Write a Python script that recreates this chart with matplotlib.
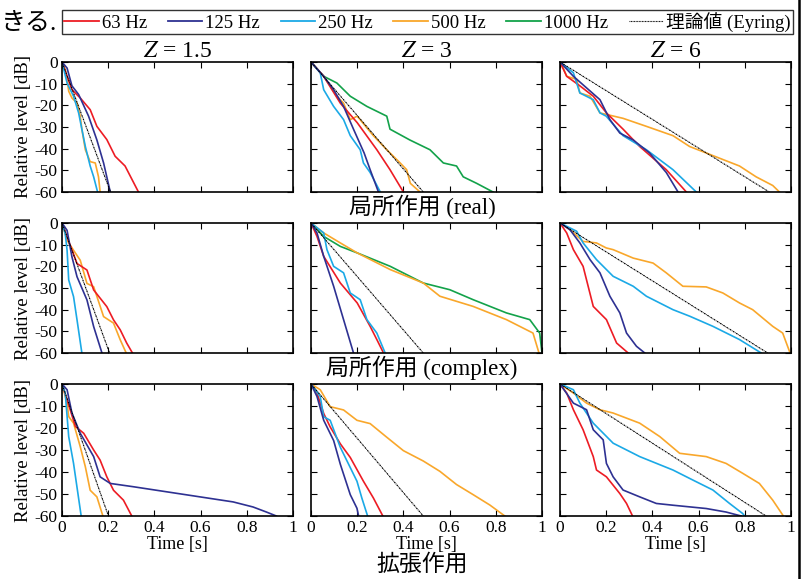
import numpy as np
import matplotlib
matplotlib.use('Agg')
from matplotlib import pyplot as plt
from matplotlib.lines import Line2D

plt.rcParams['font.family'] = ['Liberation Serif', 'Noto Sans CJK JP']
plt.rcParams['mathtext.fontset'] = 'stix'
plt.rcParams['axes.unicode_minus'] = False

# legend labels / colours
freq_labels = ['63 Hz', '125 Hz', '250 Hz', '500 Hz', '1000 Hz']
freq_colors = ['#ed1c24', '#2e3192', '#1ba9e6', '#f9a72b', '#13a24a']
eyring_label = '理論値 (Eyring)'

col_titles = ['$Z$ = 1.5', '$Z$ = 3', '$Z$ = 6']
row_titles = ['局所作用 (real)', '局所作用 (complex)', '拡張作用']

# Eyring decay: time [s] at which the straight line reaches -60 dB
eyring_t60 = [[0.21, 0.486, 0.906],
              [0.206, 0.486, 0.899],
              [0.201, 0.486, 0.892]]

# ---- row 1 : 局所作用 (real) ----
real_z15_63 = [(0, 0), (0.043, -12.8), (0.079, -16.6), (0.122, -22), (0.151, -29.7), (0.194, -35.8),
               (0.23, -43.5), (0.273, -48), (0.302, -54), (0.331, -60)]
real_z15_125 = [(0, 0), (0.022, -2.8), (0.043, -11), (0.072, -15), (0.115, -25), (0.151, -36),
                (0.18, -46.6), (0.209, -60)]
real_z15_250 = [(0, 0), (0.022, -9.7), (0.05, -15.8), (0.072, -23.5), (0.086, -31), (0.101, -39),
                (0.122, -48), (0.137, -53), (0.154, -60)]
real_z15_500 = [(0, 0), (0.014, -3.5), (0.022, -8), (0.029, -13.5), (0.043, -16.6), (0.065, -19),
                (0.079, -25), (0.086, -31), (0.101, -40.5), (0.122, -46), (0.144, -46.6), (0.158, -53),
                (0.165, -60)]

real_z3_63 = [(0, 0), (0.055, -6.6), (0.127, -19), (0.2, -28), (0.285, -40.5), (0.342, -49.7), (0.4, -60)]
real_z3_125 = [(0, 0), (0.055, -6.6), (0.098, -12.8), (0.141, -20.5), (0.184, -31), (0.23, -42),
               (0.256, -49.7), (0.292, -60)]
real_z3_250 = [(0, 0), (0.04, -5), (0.055, -12.8), (0.098, -20.5), (0.141, -26.6), (0.17, -34),
               (0.213, -40.5), (0.227, -46.6), (0.256, -51), (0.3, -60)]
real_z3_500 = [(0, 0), (0.055, -6.6), (0.112, -15.8), (0.141, -19), (0.17, -26.6), (0.2, -25),
               (0.27, -34), (0.328, -40.5), (0.386, -46.6), (0.414, -49.7), (0.43, -56), (0.472, -60)]
real_z3_1000 = [(0, 0), (0.055, -6.6), (0.112, -9.7), (0.17, -15.8), (0.242, -20.5), (0.328, -25),
                (0.342, -31), (0.428, -36), (0.515, -40.5), (0.573, -46.6), (0.63, -48), (0.659, -53),
                (0.717, -56), (0.788, -60)]

real_z6_63 = [(0, 0), (0.029, -6.6), (0.086, -11), (0.144, -15.8), (0.201, -23.5), (0.273, -31),
              (0.345, -39), (0.46, -49.7), (0.547, -60)]
real_z6_125 = [(0, 0), (0.058, -6.6), (0.173, -17.4), (0.216, -26.6), (0.259, -32.8), (0.317, -36),
               (0.388, -42), (0.46, -51), (0.511, -60)]
real_z6_250 = [(0, 0), (0.058, -5), (0.086, -14.3), (0.144, -17.4), (0.173, -23.5), (0.2, -25),
               (0.273, -34), (0.374, -40.5), (0.489, -49.7), (0.59, -60)]
real_z6_500 = [(0, 0), (0.014, -2.8), (0.029, -6.6), (0.072, -8), (0.086, -14.3), (0.13, -15.8),
               (0.173, -23.5), (0.273, -26), (0.374, -29.7), (0.489, -34), (0.561, -39), (0.633, -42),
               (0.705, -45), (0.777, -48), (0.849, -53), (0.921, -57), (0.95, -60)]

# ---- row 2 : 局所作用 (complex) ----
cplx_z15_63 = [(0, 0), (0.022, -6.4), (0.065, -18.7), (0.108, -21.7), (0.137, -30.9), (0.194, -38.6),
               (0.223, -44.7), (0.252, -49.3), (0.28, -55.4), (0.305, -60)]
cplx_z15_125 = [(0, 0), (0.022, -3.4), (0.043, -15.6), (0.065, -24.8), (0.108, -35.5), (0.137, -47.8),
                (0.173, -60)]
cplx_z15_250 = [(0, 0), (0.014, -4.9), (0.022, -12.6), (0.029, -26.3), (0.05, -34), (0.065, -44.7),
                (0.086, -60)]
cplx_z15_500 = [(0, 0), (0.022, -8), (0.05, -12.6), (0.079, -17.2), (0.108, -27.9), (0.137, -29.4),
                (0.18, -43.2), (0.223, -46.2), (0.252, -53.9), (0.278, -60)]

cplx_z3_63 = [(0, 0), (0.026, -6.2), (0.055, -15.4), (0.127, -27.7), (0.2, -36.9), (0.256, -47.7),
              (0.285, -53.8), (0.314, -60)]
cplx_z3_125 = [(0, 0), (0.026, -4.6), (0.055, -15.4), (0.098, -29.2), (0.141, -44.6), (0.184, -60)]
cplx_z3_250 = [(0, 0), (0.055, -4.6), (0.069, -12.3), (0.098, -20), (0.141, -23), (0.17, -32.3),
               (0.213, -35.4), (0.242, -44.6), (0.285, -50.8), (0.321, -60)]
cplx_z3_500 = [(0, 0), (0.055, -4.6), (0.127, -9.2), (0.2, -13.8), (0.343, -21.5), (0.486, -27.7),
               (0.558, -33.8), (0.702, -38.5), (0.846, -44.6), (0.961, -50.8), (0.987, -60)]
cplx_z3_1000 = [(0, 0), (0.055, -6.2), (0.127, -10.8), (0.2, -13.8), (0.343, -20), (0.486, -27.7),
                (0.601, -30.8), (0.702, -35.4), (0.846, -41.5), (0.947, -44.6), (0.99, -50.8), (1.0, -60)]

cplx_z6_63 = [(0, 0), (0.029, -4.6), (0.058, -12.3), (0.1, -20), (0.144, -38.5), (0.201, -44.6),
              (0.245, -55.4), (0.295, -60)]
cplx_z6_125 = [(0, 0), (0.043, -3.1), (0.086, -9.2), (0.13, -16.9), (0.173, -23), (0.216, -33.8),
               (0.259, -41.5), (0.288, -50.8), (0.331, -56.9), (0.367, -60)]
cplx_z6_250 = [(0, 0), (0.072, -3.8), (0.1, -9.2), (0.158, -16.9), (0.23, -24.6), (0.317, -29.2),
               (0.374, -33.8), (0.489, -40), (0.561, -43), (0.662, -47.7), (0.777, -53.8), (0.871, -60)]
cplx_z6_500 = [(0, 0), (0.043, -3.1), (0.1, -8.5), (0.158, -9.2), (0.2, -11.5), (0.23, -12.3),
               (0.317, -16.2), (0.403, -18.5), (0.46, -23), (0.532, -29.2), (0.633, -29.5),
               (0.705, -32.3), (0.777, -36.9), (0.834, -40), (0.921, -47.7), (0.964, -50.8), (0.996, -60)]

# ---- row 3 : 拡張作用 ----
ext_z15_63 = [(0, 0), (0.022, -7.2), (0.058, -19.3), (0.094, -22.4), (0.137, -30), (0.165, -34.6),
              (0.194, -42.2), (0.223, -48.3), (0.266, -52.8), (0.302, -60)]
ext_z15_125 = [(0, 0), (0.022, -2.6), (0.043, -13.2), (0.079, -22.4), (0.137, -33), (0.165, -42.2),
               (0.209, -45.2), (0.309, -46.7), (0.453, -49), (0.597, -51.3), (0.741, -53.6),
               (0.827, -55.9), (0.885, -58.2), (0.928, -60)]
ext_z15_250 = [(0, 0), (0.014, -4.1), (0.029, -23.9), (0.05, -36.1), (0.083, -60)]
ext_z15_500 = [(0, 0), (0.022, -8.7), (0.029, -14.8), (0.05, -17.8), (0.079, -28.5), (0.101, -37.6),
               (0.122, -48.3), (0.151, -51.3), (0.177, -60)]

ext_z3_63 = [(0, 0), (0.026, -4.2), (0.055, -13.4), (0.083, -19.5), (0.127, -27.2), (0.17, -33.4),
             (0.227, -44.2), (0.27, -51.8), (0.311, -60)]
ext_z3_125 = [(0, 0), (0.026, -5.7), (0.055, -16.5), (0.098, -25.7), (0.127, -36.5), (0.17, -50.3),
              (0.199, -56.5), (0.206, -60)]
ext_z3_250 = [(0, 0), (0.04, -5.7), (0.055, -14.9), (0.083, -16.5), (0.127, -28.8), (0.17, -38),
              (0.199, -44.2), (0.22, -51.8), (0.245, -60)]
ext_z3_500 = [(0, 0), (0.04, -2.6), (0.083, -10.3), (0.141, -11.8), (0.199, -16.5), (0.256, -18),
              (0.328, -24.2), (0.4, -30.3), (0.486, -35), (0.558, -39.7), (0.63, -45.7), (0.702, -50.3),
              (0.774, -55), (0.839, -60)]

ext_z6_63 = [(0, 0), (0.029, -4.1), (0.058, -11.7), (0.1, -20.8), (0.144, -33), (0.158, -39.1),
             (0.201, -42.2), (0.259, -49.8), (0.288, -54.3), (0.314, -60)]
ext_z6_125 = [(0, 0), (0.058, -8.7), (0.115, -11.7), (0.144, -20.8), (0.187, -25.4), (0.201, -36.1),
              (0.23, -42.2), (0.273, -48.2), (0.345, -51.3), (0.417, -54.3), (0.489, -55.1),
              (0.633, -56.6), (0.719, -58.2), (0.784, -60)]
ext_z6_250 = [(0, 0), (0.058, -2.6), (0.086, -8.7), (0.144, -17.8), (0.23, -26.9), (0.345, -33),
              (0.489, -39.1), (0.576, -43.7), (0.662, -48.2), (0.734, -54.3), (0.791, -58.9), (0.799, -60)]
ext_z6_500 = [(0, 0), (0.058, -4.1), (0.115, -8.7), (0.173, -11.7), (0.23, -13.2), (0.345, -17.8),
              (0.432, -23.9), (0.518, -31.5), (0.633, -33), (0.719, -36.1), (0.791, -40.6),
              (0.863, -45.2), (0.921, -52.8), (0.967, -60)]

# panel contents: one list per panel, entries indexed like freq_labels (None = not drawn)
panels = [
    [[real_z15_63, real_z15_125, real_z15_250, real_z15_500, None],
     [real_z3_63, real_z3_125, real_z3_250, real_z3_500, real_z3_1000],
     [real_z6_63, real_z6_125, real_z6_250, real_z6_500, None]],
    [[cplx_z15_63, cplx_z15_125, cplx_z15_250, cplx_z15_500, None],
     [cplx_z3_63, cplx_z3_125, cplx_z3_250, cplx_z3_500, cplx_z3_1000],
     [cplx_z6_63, cplx_z6_125, cplx_z6_250, cplx_z6_500, None]],
    [[ext_z15_63, ext_z15_125, ext_z15_250, ext_z15_500, None],
     [ext_z3_63, ext_z3_125, ext_z3_250, ext_z3_500, None],
     [ext_z6_63, ext_z6_125, ext_z6_250, ext_z6_500, None]],
]

W, H = 803, 579
fig = plt.figure(figsize=(W / 100, H / 100), dpi=100)

col_left = [62, 311, 560]
col_w = 231
row_top = [62, 223, 384]
row_h = [130, 130, 132]

eyring_style = (0, (1.6, 0.6, 0.6, 0.6))

def px_rect(l, t, w, h):
    return [l / W, 1 - (t + h) / H, w / W, h / H]

for r in range(3):
    for c in range(3):
        ax = fig.add_axes(px_rect(col_left[c], row_top[r], col_w, row_h[r]))
        order = [4, 3, 0, 2, 1]
        for k in order:
            curve = panels[r][c][k]
            if curve is None:
                continue
            arr = np.array(curve)
            ax.plot(arr[:, 0], arr[:, 1], color=freq_colors[k], lw=1.2)
        ax.plot([0, eyring_t60[r][c]], [0, -60], color='black', lw=0.8, ls=eyring_style)
        ax.set_xlim(0, 1)
        ax.set_ylim(-60, 0)
        ax.set_xticks([0, 0.2, 0.4, 0.6, 0.8, 1.0])
        ax.set_yticks([-60, -50, -40, -30, -20, -10, 0])
        ax.tick_params(direction='in', top=True, right=True, length=4, width=0.8,
                       labelsize=12.5, pad=3, colors='black')
        for s in ax.spines.values():
            s.set_linewidth(1.2)
        if c == 0:
            ax.set_yticklabels(['-60', '-50', '-40', '-30', '-20', '-10', '0'])
            ax.set_ylabel('Relative level [dB]', fontsize=13.5, labelpad=2)
        else:
            ax.set_yticklabels([])
        if r == 2:
            ax.set_xticklabels(['0', '0.2', '0.4', '0.6', '0.8', '1'])
            ax.set_xlabel('Time [s]', fontsize=13, labelpad=0)
        else:
            ax.set_xticklabels([])
        if r == 0:
            ax.set_title(col_titles[c], fontsize=17, pad=2)

# row captions
row_caption_y = [207, 368, 565]
for r in range(3):
    fig.text(422 / W, 1 - row_caption_y[r] / H, row_titles[r], fontsize=16.5,
             ha='center', va='center')

# legend along the top
handles = [Line2D([], [], color=freq_colors[k], lw=1.3) for k in range(5)]
handles.append(Line2D([], [], color='black', lw=0.8, ls=(0, (0.8, 0.6))))
labels = freq_labels + [eyring_label]
leg = fig.legend(handles, labels, loc='lower left', ncol=6, mode='expand',
                 bbox_to_anchor=(62 / W, 1 - 34 / H, 731 / W, 26 / H),
                 fontsize=13.5, frameon=True, fancybox=False, borderpad=0.12,
                 handlelength=1.85, handletextpad=0.15, columnspacing=0.9, borderaxespad=0,
                 labelspacing=0.1)
leg.get_frame().set_edgecolor('black')
leg.get_frame().set_linewidth(1.0)

# leftover of the surrounding text and the page frame line
fig.text(57 / W, 1 - 24 / H, 'きる.', fontsize=18, ha='right', va='center')
fig.add_artist(Line2D([799 / W, 799 / W], [0, 1], color='black', lw=1.8))

fig.savefig('out.png', dpi=100)
